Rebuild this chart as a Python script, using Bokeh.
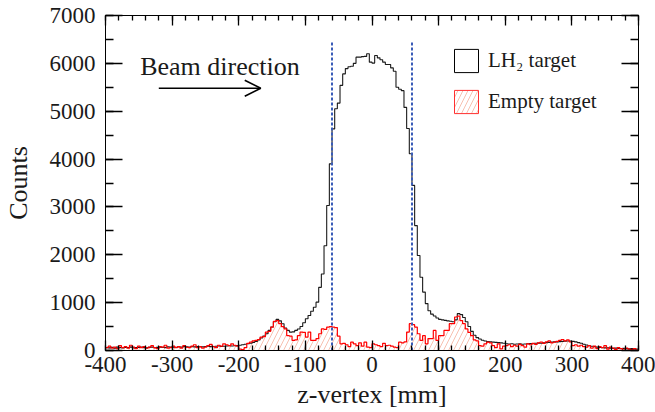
import numpy as np
from bokeh.plotting import figure
from bokeh.models import (Range1d, LinearAxis, FixedTicker, CustomJSTickFormatter,
                          Legend, LegendItem, Label, Arrow, OpenHead)
from bokeh.embed import file_html
from bokeh.resources import INLINE

# ---- data: z-vertex histogram, 4 mm bins from -400 to 400 mm ----
bin_lo = -400
bin_hi = 400
lh2_counts = [
    60, 55, 65, 50, 70, 60, 55, 65, 60, 70, 55, 60, 65, 70, 60, 55, 65, 70, 60, 65, 70, 65, 60, 75, 70,
    70, 65, 75, 70, 80, 75, 70, 80, 75, 85, 80, 75, 85, 90, 80, 85, 90, 95, 85, 90, 95, 100, 95, 100, 105,
    110, 120, 130, 140, 150, 170, 190, 220, 260, 300, 350, 420, 490, 600, 650, 620, 560, 470, 420, 385, 390, 420, 450, 500, 580,
    662, 730, 820, 905, 1010, 1320, 1600, 2190, 3030, 3900, 4630, 5050, 5170, 5540, 5780, 5890, 5930, 5940, 6000, 6130, 6130, 6140, 6145, 6200, 6025,
    6005, 6165, 6115, 6075, 6025, 5975, 5975, 5905, 5835, 5500, 5460, 5430, 5080, 4640, 4110, 3450, 2610, 1985, 1530, 1220, 980, 830, 760, 720, 680,
    650, 640, 630, 620, 610, 600, 640, 770, 750, 690, 600, 500, 400, 320, 270, 240, 215, 200, 185, 180, 175, 170, 165, 160, 150,
    140, 135, 140, 130, 135, 140, 130, 135, 140, 145, 140, 150, 155, 150, 160, 165, 170, 175, 180, 180, 185, 190, 195, 200, 200,
    190, 180, 165, 150, 130, 115, 100, 90, 80, 70, 65, 60, 55, 55, 50, 45, 50, 45, 40, 45, 40, 35, 40, 35, 30,
]
empty_counts = [
    60, 90, 50, 70, 40, 100, 60, 80, 50, 110, 70, 40, 90, 60, 80, 50, 70, 100, 60, 40, 80, 70, 110, 50, 60,
    90, 60, 80, 50, 100, 70, 60, 90, 120, 60, 80, 50, 70, 100, 130, 80, 60, 110, 90, 140, 120, 100, 140, 110, 90,
    30, 20, 60, 150, 175, 200, 210, 230, 280, 290, 385, 400, 490, 610, 625, 560, 500, 450, 310, 300, 210, 220, 310, 385, 380,
    280, 385, 210, 210, 250, 350, 450, 440, 490, 500, 490, 480, 300, 140, 150, 120, 80, 175, 140, 100, 160, 90, 175, 70, 60,
    140, 120, 100, 80, 150, 100, 110, 90, 70, 60, 175, 160, 180, 385, 560, 540, 490, 350, 210, 310, 140, 250, 250, 420, 210,
    310, 310, 420, 420, 560, 560, 700, 720, 625, 560, 450, 380, 310, 220, 200, 100, 90, 140, 175, 160, 100, 60, 140, 35, 90,
    100, 120, 80, 110, 90, 130, 100, 70, 140, 120, 150, 130, 160, 175, 150, 180, 200, 160, 175, 190, 210, 230, 200, 220, 180,
    100, 120, 90, 110, 80, 70, 100, 50, 90, 40, 80, 60, 100, 30, 70, 50, 20, 60, 40, 10, 50, 30, 20, 40, 10,
]
target_edges = [-60, 60]
target_line_top = 6450
x_ticks = [-400, -300, -200, -100, 0, 100, 200, 300, 400]
x_tick_labels = ["-400", "-300", "-200", "-100", "0", "100", "200", "300", "400"]
y_ticks = [0, 1000, 2000, 3000, 4000, 5000, 6000, 7000]
y_tick_labels = ["0", "1000", "2000", "3000", "4000", "5000", "6000", "7000"]

FONT = "Liberation Serif"
TXT = "#1a1a1a"
HATCH = "#f5b09c"

n = len(lh2_counts)
edges = np.linspace(bin_lo, bin_hi, n + 1)

def outline(counts):
    c = np.asarray(counts, dtype=float)
    return np.repeat(edges, 2)[1:-1], np.repeat(c, 2)

p = figure(width=655, height=412, x_range=Range1d(-400, 400), y_range=Range1d(0, 7000),
           output_backend="svg", toolbar_location=None,
           x_axis_type=None, y_axis_type=None,
           min_border_left=102, min_border_right=17, min_border_top=15, min_border_bottom=62)
p.xgrid.visible = False
p.ygrid.visible = False
p.outline_line_color = "black"
p.outline_line_width = 1
p.background_fill_color = "white"
p.border_fill_color = "white"

x_minor = list(range(-400, 401, 20))
y_minor = list(range(0, 7001, 500))

def mk_axis(ticks, minor, labels=None, tin=10, mtin=5):
    ax = LinearAxis(ticker=FixedTicker(ticks=ticks, minor_ticks=minor))
    ax.major_tick_in = tin
    ax.major_tick_out = 0
    ax.minor_tick_in = mtin
    ax.minor_tick_out = 0
    ax.major_tick_line_color = "black"
    ax.minor_tick_line_color = "black"
    ax.axis_line_color = "black"
    ax.major_tick_line_width = 1.3
    ax.minor_tick_line_width = 1.3
    if labels is not None:
        ax.major_label_overrides = {t: s for t, s in zip(ticks, labels)}
        ax.major_label_text_font = FONT
        ax.major_label_text_font_size = "23px"
        ax.major_label_text_color = TXT
    else:
        ax.formatter = CustomJSTickFormatter(code="return ''")
        ax.major_label_standoff = 0
    return ax

xb = mk_axis(x_ticks, x_minor, x_tick_labels, 10, 5)
xb.axis_label = "z-vertex [mm]"
xb.axis_label_text_font = FONT
xb.axis_label_text_font_style = "normal"
xb.axis_label_text_font_size = "26px"
xb.axis_label_text_color = TXT
xb.major_label_standoff = 6
xb.axis_label_standoff = 5
p.add_layout(xb, "below")

yl = mk_axis(y_ticks, y_minor, y_tick_labels, 17, 8)
yl.axis_label = "Counts"
yl.axis_label_text_font = FONT
yl.axis_label_text_font_style = "normal"
yl.axis_label_text_font_size = "26px"
yl.axis_label_text_color = TXT
yl.major_label_standoff = 10
yl.axis_label_standoff = 14
p.add_layout(yl, "left")

xt = mk_axis(x_ticks, x_minor, None, 10, 5)
p.add_layout(xt, "above")
yr = mk_axis(y_ticks, y_minor, None, 17, 8)
p.add_layout(yr, "right")

# empty-target hatched area
ey = list(np.asarray(empty_counts, dtype=float)) + [float(empty_counts[-1])]
p.varea_step(x=list(edges), y1=[0.0] * (n + 1), y2=ey, step_mode="after",
             fill_color=None, fill_alpha=0, hatch_pattern="/", hatch_color=HATCH,
             hatch_alpha=0.8, hatch_scale=10, hatch_weight=1)

lx, ly = outline(lh2_counts)
p.line(lx, ly, line_color="#1a1a1a", line_width=1.1)
ex, ey2 = outline(empty_counts)
p.line(ex, ey2, line_color="#ff0000", line_width=1.2)

p.segment(x0=target_edges, y0=[0, 0], x1=target_edges, y1=[target_line_top] * 2,
          line_color="#3a5cb8", line_width=2, line_dash="3 2")

# legend (renderers with a NaN entry, used only for the legend boxes)
nan = float("nan")
r_lh2 = p.quad(left=[nan], right=[nan], top=[nan], bottom=[nan],
               fill_color=None, line_color="black", line_width=1)
r_emp = p.quad(left=[nan], right=[nan], top=[nan], bottom=[nan],
               fill_color=None, line_color="#ff3030", line_width=1,
               hatch_pattern="/", hatch_color=HATCH, hatch_alpha=0.8, hatch_scale=10, hatch_weight=1)
leg = Legend(items=[LegendItem(label="LH₂ target", renderers=[r_lh2]),
                    LegendItem(label="Empty target", renderers=[r_emp])],
             location=(346, 234), glyph_width=30, glyph_height=29, label_height=29,
             spacing=12, padding=0, margin=0, label_standoff=7,
             border_line_color=None, background_fill_alpha=0,
             label_text_font=FONT, label_text_font_size="21px", label_text_color=TXT)
p.add_layout(leg)

p.add_layout(Label(x=-348, y=5930, text="Beam direction", text_font=FONT, text_font_size="26px",
                   text_color=TXT, text_baseline="alphabetic"))
p.add_layout(Arrow(end=OpenHead(size=16, line_width=1.6, line_color="black"),
                   x_start=-320, y_start=5480, x_end=-167, y_end=5480,
                   line_width=1.6, line_color="black"))

open("out.html", "w").write(file_html(p, INLINE))
